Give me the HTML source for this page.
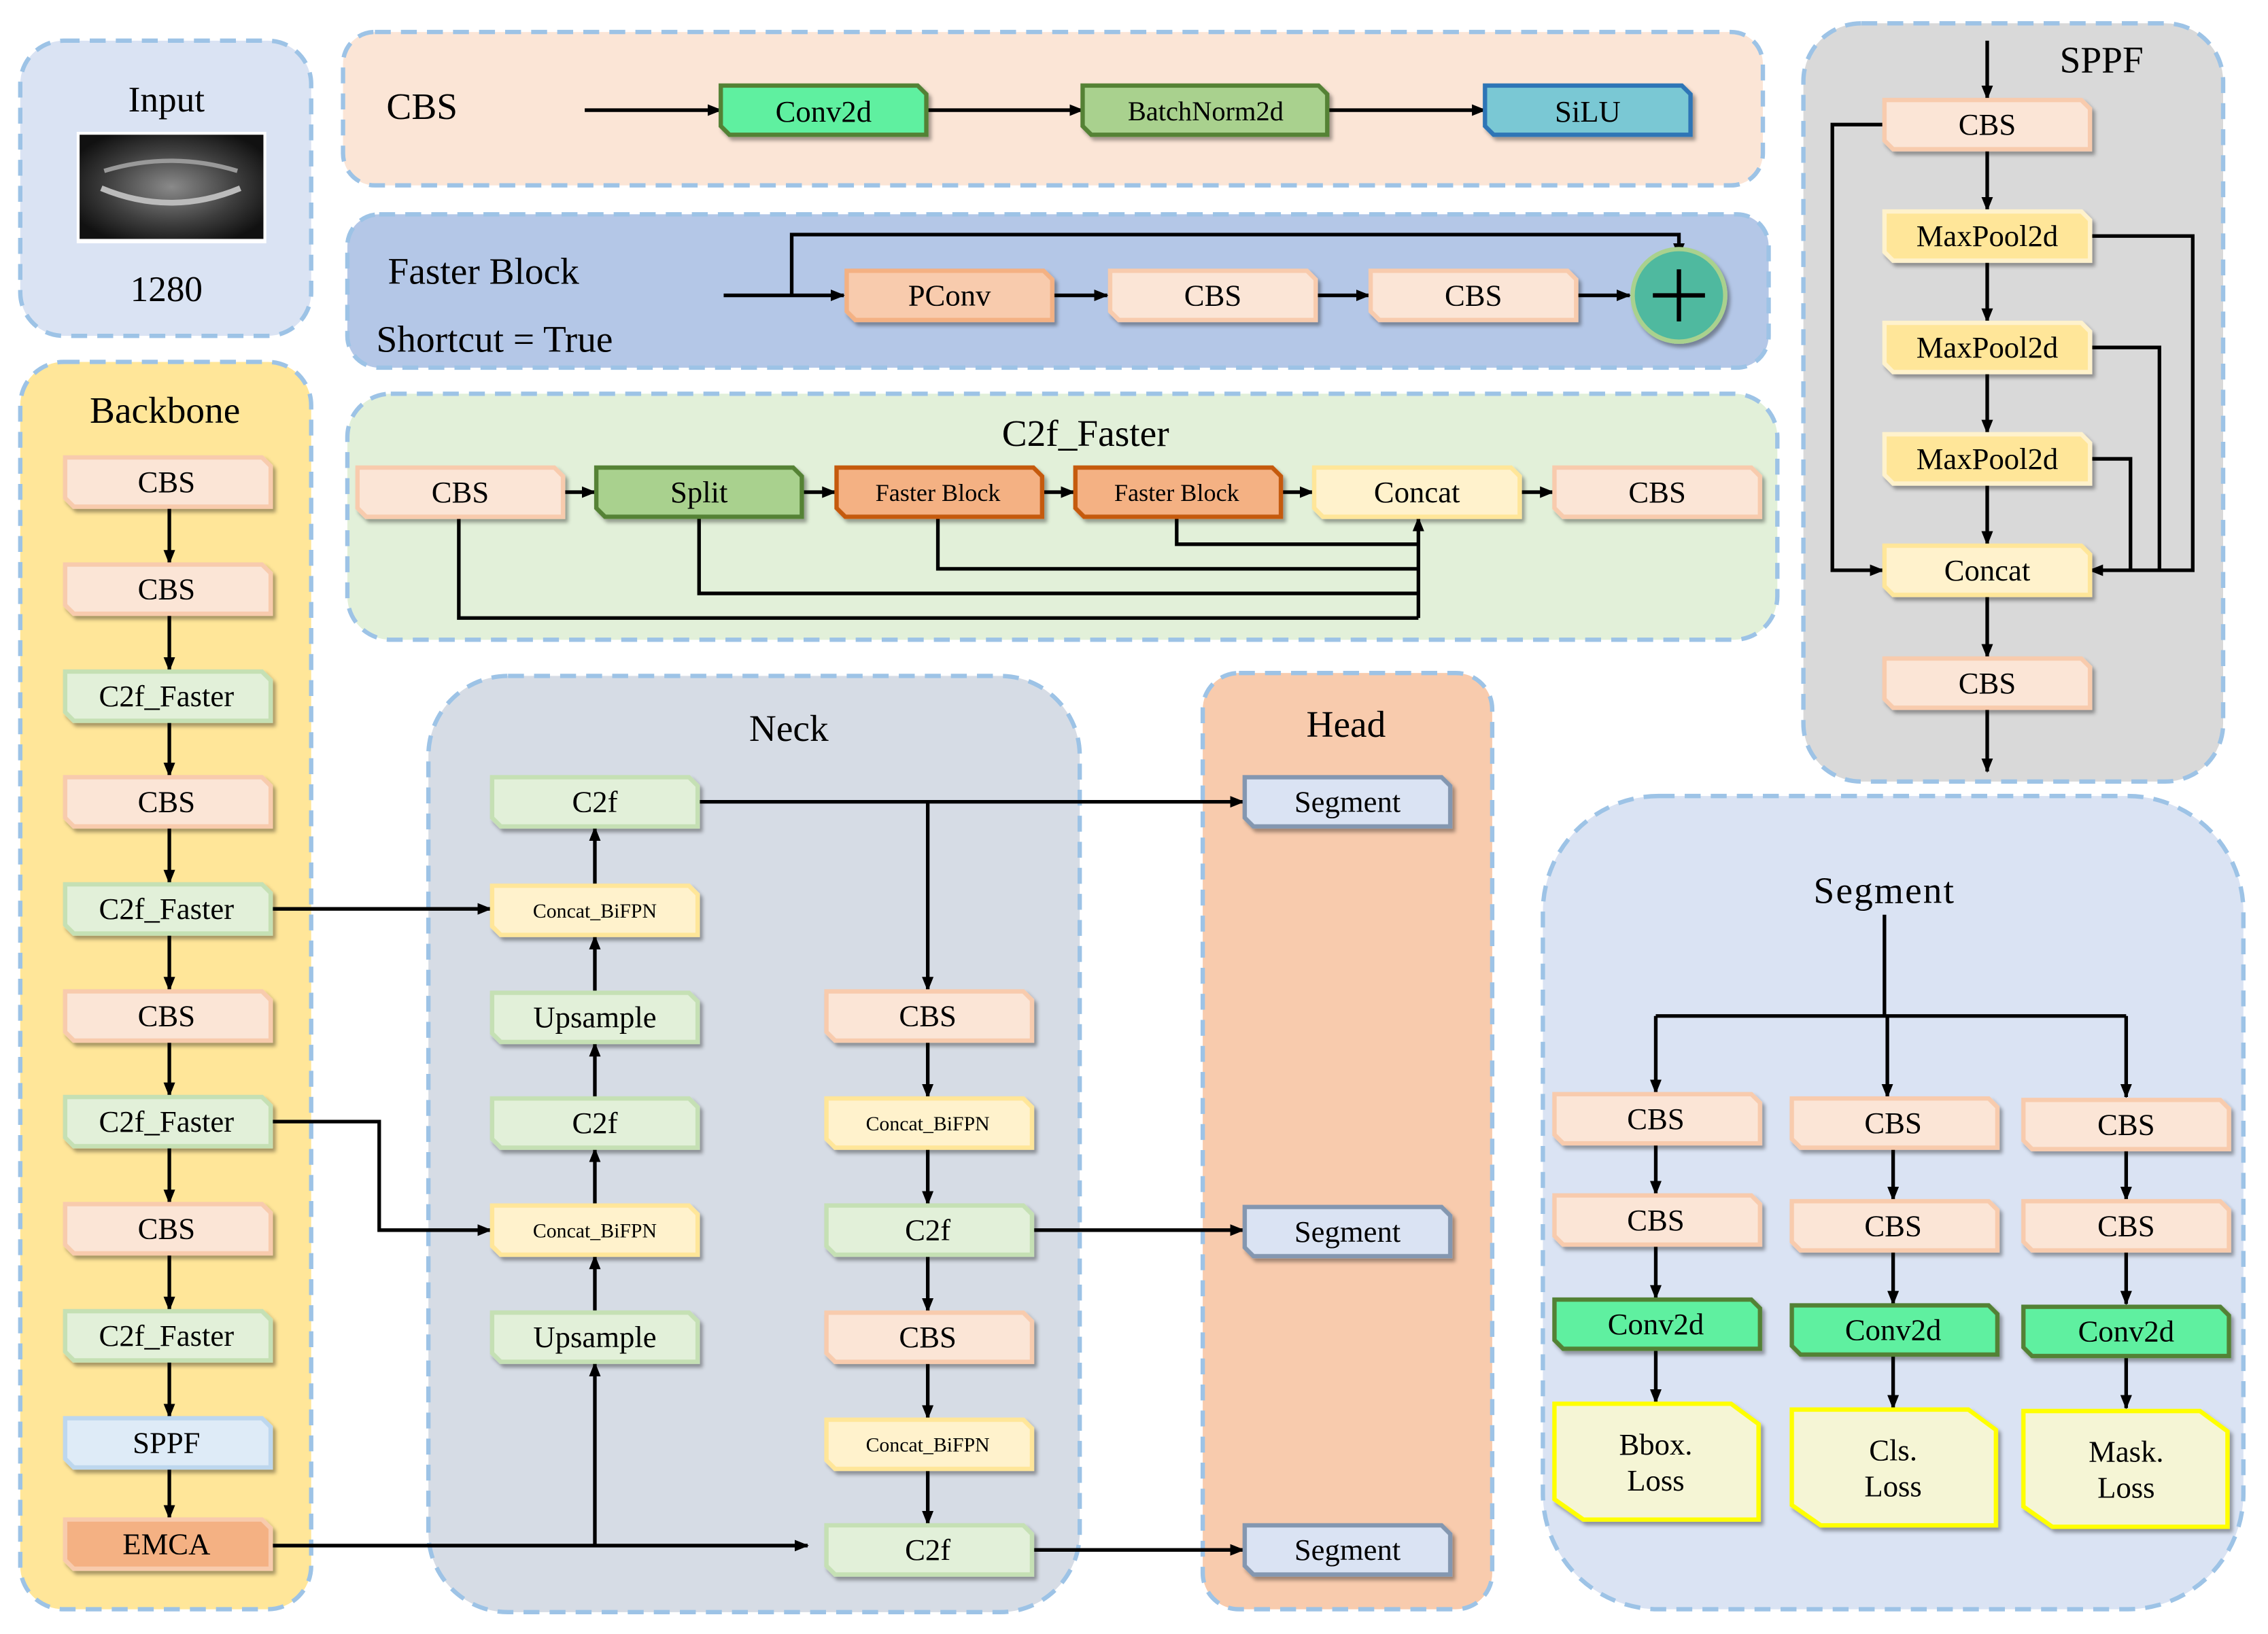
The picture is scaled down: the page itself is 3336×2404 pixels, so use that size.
<!DOCTYPE html>
<html><head><meta charset="utf-8"><style>
html,body{margin:0;padding:0;background:#fff;}
svg{display:block;}
text{font-family:"Liberation Serif",serif;fill:#000;}
</style></head><body>
<svg width="3336" height="2404" viewBox="0 0 1567 1129" font-family="Liberation Serif, serif" xmlns="http://www.w3.org/2000/svg">
<defs>
<filter id="sh" x="-10%" y="-20%" width="130%" height="160%"><feDropShadow dx="2" dy="2.5" stdDeviation="1.2" flood-color="#000" flood-opacity="0.35"/></filter>
<marker id="ar" markerWidth="10" markerHeight="10" refX="9" refY="5" orient="auto" markerUnits="userSpaceOnUse"><path d="M0,1 L10,5 L0,9 Z" fill="#000"/></marker>
<path id="n" d="M0,0 H136 L142,6 V34 H6 L0,28 Z"/>
<path id="nb" d="M0,0 H163 L169,6 V34 H6 L0,28 Z"/>
<path id="ls" d="M0,0 H122 L141,14 V80 H20 L0,66 Z"/>
</defs>
<g stroke="#9dc3e6" stroke-width="3" stroke-dasharray="11,7">
<rect x="14" y="28" width="201" height="204" rx="30" fill="#dae3f3"/>
<rect x="237" y="22" width="981" height="106" rx="22" fill="#fbe5d6"/>
<rect x="240" y="148" width="982" height="106" rx="22" fill="#b4c7e7"/>
<rect x="240" y="272" width="988" height="170" rx="30" fill="#e2f0d9"/>
<rect x="14" y="250" width="201" height="862" rx="30" fill="#ffe699"/>
<rect x="296" y="467" width="450" height="647" rx="55" fill="#d6dce5"/>
<rect x="831" y="465" width="200" height="647" rx="25" fill="#f8cbad"/>
<rect x="1246" y="16" width="290" height="524" rx="40" fill="#d9d9d9"/>
<rect x="1066" y="550" width="484" height="562" rx="80" fill="#dae3f3"/>
</g>
<rect x="53" y="91" width="131" height="77" fill="#fff"/>
<defs><radialGradient id="xr" cx="50%" cy="50%" r="60%"><stop offset="0" stop-color="#8a8a8a"/><stop offset="0.6" stop-color="#3d3d3d"/><stop offset="1" stop-color="#111"/></radialGradient></defs>
<rect x="55" y="93" width="127" height="72" fill="url(#xr)"/>
<path d="M70,130 Q118,150 166,130" stroke="#bbb" stroke-width="4" fill="none"/>
<path d="M72,118 Q118,104 164,118" stroke="#999" stroke-width="3" fill="none"/>
<text x="115" y="77" font-size="25" text-anchor="middle">Input</text>
<text x="115" y="208" font-size="25" text-anchor="middle">1280</text>

<g stroke="#000" stroke-width="2.5" fill="none" marker-end="url(#ar)">
<path d="M404,76 H498"/><path d="M639,76 H748"/><path d="M917,76 H1026"/>
<path d="M500,204 H583"/><path d="M547,204 V162 H1160 V177" /><path d="M727,204 H765"/><path d="M910,204 H946"/><path d="M1089,204 H1126"/>
<path d="M389,340 H411"/><path d="M553,340 H577"/><path d="M719,340 H742"/><path d="M884,340 H907"/><path d="M1050,340 H1073"/>
<path d="M980,427 V358"/>
<path d="M117,350 V389"/><path d="M117,424 V463"/><path d="M117,498 V536"/><path d="M117,571 V610"/><path d="M117,645 V684"/><path d="M117,719 V757"/><path d="M117,792 V831"/><path d="M117,866 V905"/><path d="M117,940 V979"/><path d="M117,1014 V1049"/>
<path d="M186,628 H339"/><path d="M186,775 H262 V850 H339"/>
<path d="M186,1068 H558"/>
<path d="M411,1068 V942"/><path d="M411,907 V868"/><path d="M411,833 V794"/><path d="M411,759 V721"/><path d="M411,686 V647"/><path d="M411,612 V572"/>
<path d="M482,554 H859"/><path d="M641,554 V684"/><path d="M641,719 V758"/><path d="M641,793 V832"/><path d="M641,867 V906"/><path d="M641,941 V980"/><path d="M641,1015 V1053"/>
<path d="M713,850 H859"/><path d="M713,1071 H859"/>
<path d="M1373,28 V68"/><path d="M1373,103 V145"/><path d="M1373,180 V222"/><path d="M1373,257 V299"/><path d="M1373,334 V376"/><path d="M1373,411 V454"/><path d="M1373,489 V533"/>
<path d="M1302,86 H1266 V394 H1301"/>
<path d="M1443,163 H1515 V394 H1444"/>
<path d="M1144,702 V755"/><path d="M1304,702 V758"/><path d="M1469,702 V758"/>
<path d="M1144,790 V825"/><path d="M1308,793 V829"/><path d="M1469,793 V829"/>
<path d="M1144,860 V897"/><path d="M1308,863 V901"/><path d="M1469,863 V901"/>
<path d="M1144,932 V969"/><path d="M1308,935 V973"/><path d="M1469,935 V973"/>
</g>
<g stroke="#000" stroke-width="2.5" fill="none">
<path d="M317,357 V427 H980"/><path d="M483,357 V410 H980"/><path d="M648,357 V393 H980"/><path d="M813,357 V376 H980"/>
<path d="M1443,240 H1492 V394"/><path d="M1443,317 H1472 V394"/>
<path d="M1302,632 V702"/><path d="M1144,702 H1469"/>
</g>

<g filter="url(#sh)" stroke-width="3">
<use href="#n" x="498" y="59" fill="#5ff0a0" stroke="#538135"/>
<use href="#nb" x="748" y="59" fill="#a9d18e" stroke="#548235"/>
<use href="#n" x="1026" y="59" fill="#7ac8d4" stroke="#2e75b6"/>
<use href="#n" x="585" y="187" fill="#f8cbad" stroke="#f4b183"/>
<use href="#n" x="767" y="187" fill="#fbe5d6" stroke="#f8cbad"/>
<use href="#n" x="947" y="187" fill="#fbe5d6" stroke="#f8cbad"/>
<use href="#n" x="247" y="323" fill="#fbe5d6" stroke="#f8cbad"/>
<use href="#n" x="412" y="323" fill="#a9d18e" stroke="#548235"/>
<use href="#n" x="578" y="323" fill="#f4b183" stroke="#c55a11"/>
<use href="#n" x="743" y="323" fill="#f4b183" stroke="#c55a11"/>
<use href="#n" x="908" y="323" fill="#fff2cc" stroke="#ffe699"/>
<use href="#n" x="1074" y="323" fill="#fbe5d6" stroke="#f8cbad"/>
<use href="#n" x="45" y="316" fill="#fbe5d6" stroke="#f8cbad"/>
<use href="#n" x="45" y="390" fill="#fbe5d6" stroke="#f8cbad"/>
<use href="#n" x="45" y="464" fill="#e2f0d9" stroke="#c5e0b4"/>
<use href="#n" x="45" y="537" fill="#fbe5d6" stroke="#f8cbad"/>
<use href="#n" x="45" y="611" fill="#e2f0d9" stroke="#c5e0b4"/>
<use href="#n" x="45" y="685" fill="#fbe5d6" stroke="#f8cbad"/>
<use href="#n" x="45" y="758" fill="#e2f0d9" stroke="#c5e0b4"/>
<use href="#n" x="45" y="832" fill="#fbe5d6" stroke="#f8cbad"/>
<use href="#n" x="45" y="906" fill="#e2f0d9" stroke="#c5e0b4"/>
<use href="#n" x="45" y="980" fill="#deebf7" stroke="#bdd7ee"/>
<use href="#n" x="45" y="1050" fill="#f4b183" stroke="#f8cbad"/>
<use href="#n" x="340" y="537" fill="#e2f0d9" stroke="#c5e0b4"/>
<use href="#n" x="340" y="612" fill="#fff2cc" stroke="#ffe699"/>
<use href="#n" x="340" y="686" fill="#e2f0d9" stroke="#c5e0b4"/>
<use href="#n" x="340" y="759" fill="#e2f0d9" stroke="#c5e0b4"/>
<use href="#n" x="340" y="833" fill="#fff2cc" stroke="#ffe699"/>
<use href="#n" x="340" y="907" fill="#e2f0d9" stroke="#c5e0b4"/>
<use href="#n" x="571" y="685" fill="#fbe5d6" stroke="#f8cbad"/>
<use href="#n" x="571" y="759" fill="#fff2cc" stroke="#ffe699"/>
<use href="#n" x="571" y="833" fill="#e2f0d9" stroke="#c5e0b4"/>
<use href="#n" x="571" y="907" fill="#fbe5d6" stroke="#f8cbad"/>
<use href="#n" x="571" y="981" fill="#fff2cc" stroke="#ffe699"/>
<use href="#n" x="571" y="1054" fill="#e2f0d9" stroke="#c5e0b4"/>
<use href="#n" x="860" y="537" fill="#dae3f3" stroke="#8497b0"/>
<use href="#n" x="860" y="834" fill="#dae3f3" stroke="#8497b0"/>
<use href="#n" x="860" y="1054" fill="#dae3f3" stroke="#8497b0"/>
<use href="#n" x="1302" y="69" fill="#fbe5d6" stroke="#f8cbad"/>
<use href="#n" x="1302" y="146" fill="#ffe699" stroke="#fff2cc"/>
<use href="#n" x="1302" y="223" fill="#ffe699" stroke="#fff2cc"/>
<use href="#n" x="1302" y="300" fill="#ffe699" stroke="#fff2cc"/>
<use href="#n" x="1302" y="377" fill="#fff2cc" stroke="#ffe699"/>
<use href="#n" x="1302" y="455" fill="#fbe5d6" stroke="#f8cbad"/>
<use href="#n" x="1074" y="756" fill="#fbe5d6" stroke="#f8cbad"/>
<use href="#n" x="1238" y="759" fill="#fbe5d6" stroke="#f8cbad"/>
<use href="#n" x="1398" y="760" fill="#fbe5d6" stroke="#f8cbad"/>
<use href="#n" x="1074" y="826" fill="#fbe5d6" stroke="#f8cbad"/>
<use href="#n" x="1238" y="830" fill="#fbe5d6" stroke="#f8cbad"/>
<use href="#n" x="1398" y="830" fill="#fbe5d6" stroke="#f8cbad"/>
<use href="#n" x="1074" y="898" fill="#5ff0a0" stroke="#538135"/>
<use href="#n" x="1238" y="902" fill="#5ff0a0" stroke="#538135"/>
<use href="#n" x="1398" y="903" fill="#5ff0a0" stroke="#538135"/>
<use href="#ls" x="1074" y="970" fill="#f5f5d5" stroke="#ffff00"/>
<use href="#ls" x="1238" y="974" fill="#f5f5d5" stroke="#ffff00"/>
<use href="#ls" x="1398" y="975" fill="#f5f5d5" stroke="#ffff00"/>
</g>
<circle cx="1160" cy="204" r="32" fill="#4fb99f" stroke="#a9d18e" stroke-width="3" filter="url(#sh)"/>
<path d="M1142,204 H1178 M1160,186 V222" stroke="#000" stroke-width="3"/>

<text x="267" y="82" font-size="26">CBS</text>
<text x="268" y="196" font-size="26">Faster Block</text>
<text x="260" y="243" font-size="26">Shortcut = True</text>
<text x="750" y="308" font-size="26" text-anchor="middle">C2f_Faster</text>
<text x="114" y="292" font-size="26" text-anchor="middle">Backbone</text>
<text x="545" y="512" font-size="26" text-anchor="middle">Neck</text>
<text x="930" y="509" font-size="26" text-anchor="middle">Head</text>
<text x="1452" y="50" font-size="26" text-anchor="middle">SPPF</text>
<text x="1302" y="624" font-size="26" text-anchor="middle" letter-spacing="1">Segment</text>

<g font-size="21" text-anchor="middle">
<text x="569" y="84">Conv2d</text><text x="833" y="83" font-size="19">BatchNorm2d</text><text x="1097" y="84">SiLU</text>
<text x="656" y="211">PConv</text><text x="838" y="211">CBS</text><text x="1018" y="211">CBS</text>
<text x="318" y="347">CBS</text><text x="483" y="347">Split</text>
<text x="648" y="346" font-size="17">Faster Block</text><text x="813" y="346" font-size="17">Faster Block</text>
<text x="979" y="347">Concat</text><text x="1145" y="347">CBS</text>
<text x="115" y="340">CBS</text><text x="115" y="414">CBS</text><text x="115" y="488">C2f_Faster</text>
<text x="115" y="561">CBS</text><text x="115" y="635">C2f_Faster</text><text x="115" y="709">CBS</text>
<text x="115" y="782">C2f_Faster</text><text x="115" y="856">CBS</text><text x="115" y="930">C2f_Faster</text>
<text x="115" y="1004">SPPF</text><text x="115" y="1074">EMCA</text>
<text x="411" y="561">C2f</text><text x="411" y="634" font-size="14">Concat_BiFPN</text>
<text x="411" y="710">Upsample</text><text x="411" y="783">C2f</text>
<text x="411" y="855" font-size="14">Concat_BiFPN</text><text x="411" y="931">Upsample</text>
<text x="641" y="709">CBS</text><text x="641" y="781" font-size="14">Concat_BiFPN</text>
<text x="641" y="857">C2f</text><text x="641" y="931">CBS</text>
<text x="641" y="1003" font-size="14">Concat_BiFPN</text><text x="641" y="1078">C2f</text>
<text x="931" y="561">Segment</text><text x="931" y="858">Segment</text><text x="931" y="1078">Segment</text>
<text x="1373" y="93">CBS</text><text x="1373" y="170">MaxPool2d</text><text x="1373" y="247">MaxPool2d</text>
<text x="1373" y="324">MaxPool2d</text><text x="1373" y="401">Concat</text><text x="1373" y="479">CBS</text>
<text x="1144" y="780">CBS</text><text x="1308" y="783">CBS</text><text x="1469" y="784">CBS</text>
<text x="1144" y="850">CBS</text><text x="1308" y="854">CBS</text><text x="1469" y="854">CBS</text>
<text x="1144" y="922">Conv2d</text><text x="1308" y="926">Conv2d</text><text x="1469" y="927">Conv2d</text>
<text x="1144" y="1005">Bbox.</text><text x="1144" y="1030">Loss</text>
<text x="1308" y="1009">Cls.</text><text x="1308" y="1034">Loss</text>
<text x="1469" y="1010">Mask.</text><text x="1469" y="1035">Loss</text>
</g>
</svg>
</body></html>
